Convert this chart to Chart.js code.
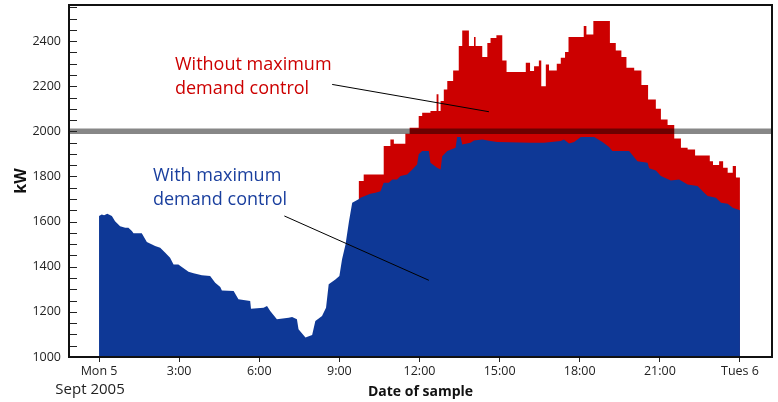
<!DOCTYPE html>
<html>
<head>
<meta charset="utf-8">
<script src="https://cdn.jsdelivr.net/npm/chart.js@4.4.1/dist/chart.umd.min.js"></script>
<style>
  html, body { margin: 0; padding: 0; background: #fff; }
  #wrap { width: 778px; height: 402px; position: relative; }
</style>
</head>
<body>
<div id="wrap"><canvas id="myChart"></canvas></div>
<script>
// Demand with control (blue), hours after midnight Mon 5 Sept 2005
const blueHours = [0, 0.10, 0.19, 0.31, 0.48, 0.60, 0.79, 0.98, 1.10, 1.23,
  1.29, 1.60, 1.79, 2.10, 2.29, 2.48, 2.66, 2.79, 2.97, 3.10,
  3.35, 3.54, 3.85, 4.16, 4.35, 4.54, 4.60, 5.04, 5.22, 5.66,
  5.69, 6.16, 6.29, 6.41, 6.66, 7.10, 7.23, 7.41, 7.47, 7.73,
  7.98, 8.10, 8.35, 8.50, 8.60, 8.85, 9.00, 9.10, 9.23, 9.36,
  9.48, 9.72, 9.79, 10.16, 10.35, 10.54, 10.66, 10.85, 10.98, 11.16,
  11.29, 11.54, 11.73, 11.91, 11.97, 12.10, 12.35, 12.41, 12.66, 12.79,
  12.85, 13.04, 13.35, 13.41, 13.54, 13.60, 13.91, 14.04, 14.35, 14.66,
  14.91, 16.16, 16.66, 17.29, 17.41, 17.60, 17.79, 18.04, 18.54, 18.85,
  19.10, 19.22, 19.85, 20.16, 20.54, 20.60, 20.85, 21.04, 21.41, 21.72,
  22.04, 22.41, 22.66, 22.79, 23.10, 23.29, 23.54, 23.73, 24.0];
const blueKw = [1625, 1632, 1628, 1635, 1625, 1602, 1580, 1573, 1573, 1558,
  1548, 1548, 1510, 1492, 1484, 1462, 1440, 1410, 1410, 1399,
  1378, 1371, 1362, 1359, 1329, 1310, 1295, 1292, 1256, 1248,
  1214, 1218, 1226, 1204, 1167, 1174, 1177, 1167, 1123, 1086,
  1097, 1160, 1182, 1218, 1322, 1344, 1359, 1433, 1499, 1602,
  1684, 1699, 1706, 1724, 1728, 1735, 1772, 1772, 1787, 1787,
  1802, 1809, 1831, 1853, 1898, 1913, 1913, 1861, 1839, 1831,
  1890, 1913, 1927, 1975, 1975, 1942, 1949, 1960, 1964, 1957,
  1953, 1950, 1949, 1957, 1964, 1946, 1953, 1975, 1975, 1953,
  1931, 1913, 1913, 1868, 1861, 1836, 1827, 1802, 1782, 1787,
  1764, 1758, 1728, 1713, 1706, 1684, 1679, 1662, 1650];

// Demand without control (red), stepped
const redHours = [9.72, 9.91, 10.66, 10.91, 11.04, 11.47, 11.63, 11.97, 12.10, 12.41,
  12.64, 12.71, 12.79, 12.91, 13.04, 13.26, 13.47, 13.60, 13.85, 14.04,
  14.10, 14.35, 14.54, 14.66, 14.88, 15.10, 15.26, 15.98, 16.14, 16.29,
  16.47, 16.56, 16.73, 16.85, 17.14, 17.29, 17.45, 17.58, 18.15, 18.25,
  18.51, 19.13, 19.35, 19.56, 19.75, 20.04, 20.31, 20.56, 20.85, 21.04,
  21.29, 21.54, 21.79, 22.04, 22.32, 22.87, 22.99, 23.22, 23.37, 23.54,
  23.73, 23.85, 24.0];
const redKw = [1780, 1809, 1935, 1964, 1945, 1989, 2016, 2068, 2083, 2090,
  2164, 2090, 2134, 2185, 2223, 2270, 2378, 2447, 2378, 2418,
  2378, 2329, 2392, 2414, 2426, 2314, 2263, 2304, 2267, 2289,
  2314, 2200, 2296, 2270, 2300, 2326, 2352, 2418, 2467, 2429,
  2489, 2392, 2358, 2329, 2282, 2270, 2205, 2141, 2100, 2053,
  2028, 1968, 1927, 1920, 1893, 1868, 1851, 1868, 1839, 1817,
  1846, 1795, 1795];

// maximum demand limit
const limitHours = [-1.125, 25.2];
const limitKw = [2000, 2000];

const tickHours = [0, 3, 6, 9, 12, 15, 18, 21, 24];
const tickLabels = ['Mon 5', '3:00', '6:00', '9:00', '12:00', '15:00', '18:00', '21:00', 'Tues 6'];
const yLabelTicks = [1000, 1200, 1400, 1600, 1800, 2000, 2200, 2400];

const toPoints = (xs, ys) => xs.map((x, i) => ({ x: x, y: ys[i] }));

const FONT = "'Open Sans', sans-serif";

// frame, inner y ticks, date line and the two callouts
const decor = {
  id: 'decor',
  afterDatasetsDraw(chart) {
    const ctx = chart.ctx;
    const a = chart.chartArea;
    const xs = chart.scales.x, ys = chart.scales.y;
    ctx.save();

    // small ticks every 50 kW, inside the plot
    ctx.strokeStyle = '#222';
    ctx.lineWidth = 1;
    for (let v = 1000; v <= 2550; v += 50) {
      const y = Math.round(ys.getPixelForValue(v)) + 0.5;
      ctx.beginPath();
      ctx.moveTo(a.left, y);
      ctx.lineTo(a.left + 8, y);
      ctx.stroke();
    }

    // box
    ctx.strokeStyle = '#111';
    ctx.lineWidth = 2;
    ctx.strokeRect(a.left, a.top, a.right - a.left, a.bottom - a.top);

    // date under the first tick
    ctx.fillStyle = '#222';
    ctx.font = '15px ' + FONT;
    ctx.textAlign = 'center';
    ctx.textBaseline = 'alphabetic';
    ctx.fillText('Sept 2005', xs.getPixelForValue(0) - 9, 394);

    // callouts
    ctx.textAlign = 'left';
    ctx.font = '18px ' + FONT;
    ctx.fillStyle = '#cc0000';
    ctx.fillText('Without maximum', 175, 70);
    ctx.fillText('demand control', 175, 94);
    ctx.fillStyle = '#1a3f9e';
    ctx.fillText('With maximum', 153, 181);
    ctx.fillText('demand control', 153, 205);

    ctx.strokeStyle = '#000';
    ctx.lineWidth = 1;
    ctx.beginPath();
    ctx.moveTo(xs.getPixelForValue(8.73), ys.getPixelForValue(2208));
    ctx.lineTo(xs.getPixelForValue(14.60), ys.getPixelForValue(2087));
    ctx.moveTo(xs.getPixelForValue(6.94), ys.getPixelForValue(1625));
    ctx.lineTo(xs.getPixelForValue(12.35), ys.getPixelForValue(1340));
    ctx.stroke();
    ctx.restore();
  }
};

const chartConfig = {
  type: 'line',
  data: {
    datasets: [
      {
        label: 'Maximum demand',
        data: toPoints(limitHours, limitKw),
        borderColor: 'rgba(0, 0, 0, 0.47)',
        borderWidth: 5.5,
        pointRadius: 0,
        fill: false,
      },
      {
        label: 'With maximum demand control',
        data: toPoints(blueHours, blueKw),
        borderColor: '#0e3896',
        backgroundColor: '#0e3896',
        borderWidth: 0,
        pointRadius: 0,
        fill: 'start',
      },
      {
        label: 'Without maximum demand control',
        data: toPoints(redHours, redKw),
        borderColor: '#cc0000',
        backgroundColor: '#cc0000',
        borderWidth: 0,
        pointRadius: 0,
        stepped: 'before',
        fill: 'start',
      }
    ]
  },
  options: {
    responsive: true,
    maintainAspectRatio: false,
    animation: false,
    devicePixelRatio: 1,
    layout: { padding: { left: 10, top: 5, right: 6, bottom: 0 } },
    scales: {
      x: {
        type: 'linear',
        min: -1.125,
        max: 25.2,
        afterBuildTicks: axis => { axis.ticks = tickHours.map(v => ({ value: v })); },
        afterFit: scale => { scale.height = 45; },
        ticks: {
          autoSkip: false,
          maxRotation: 0,
          padding: 2,
          color: '#222',
          font: { family: FONT, size: 12.5, lineHeight: 1.2 },
          callback: (v) => tickLabels[tickHours.indexOf(v)],
        },
        grid: { drawOnChartArea: false, drawTicks: true, tickLength: 5, color: '#222' },
        border: { display: false },
        title: {
          display: true,
          text: 'Date of sample',
          color: '#111',
          font: { family: FONT, size: 14, weight: 'bold' },
          padding: { top: 0, bottom: 2 },
        },
      },
      y: {
        min: 1000,
        max: 2560,
        afterBuildTicks: axis => { axis.ticks = yLabelTicks.map(v => ({ value: v })); },
        afterFit: scale => {
          scale.width = 59;
          scale.paddingTop = 0;
          scale.paddingBottom = 0;
        },
        ticks: {
          padding: 8,
          color: '#222',
          font: { family: FONT, size: 12.5 },
          callback: (v) => String(v),
        },
        grid: { display: false, drawTicks: false },
        border: { display: false },
        title: {
          display: true,
          text: 'kW',
          color: '#111',
          font: { family: FONT, size: 16, weight: 'bold' },
          padding: { top: 2, bottom: 0 },
        },
      }
    },
    plugins: {
      legend: { display: false },
      tooltip: { enabled: false },
    }
  },
  plugins: [decor]
};

const myChart = new Chart(document.getElementById('myChart'), chartConfig);
</script>
</body>
</html>
